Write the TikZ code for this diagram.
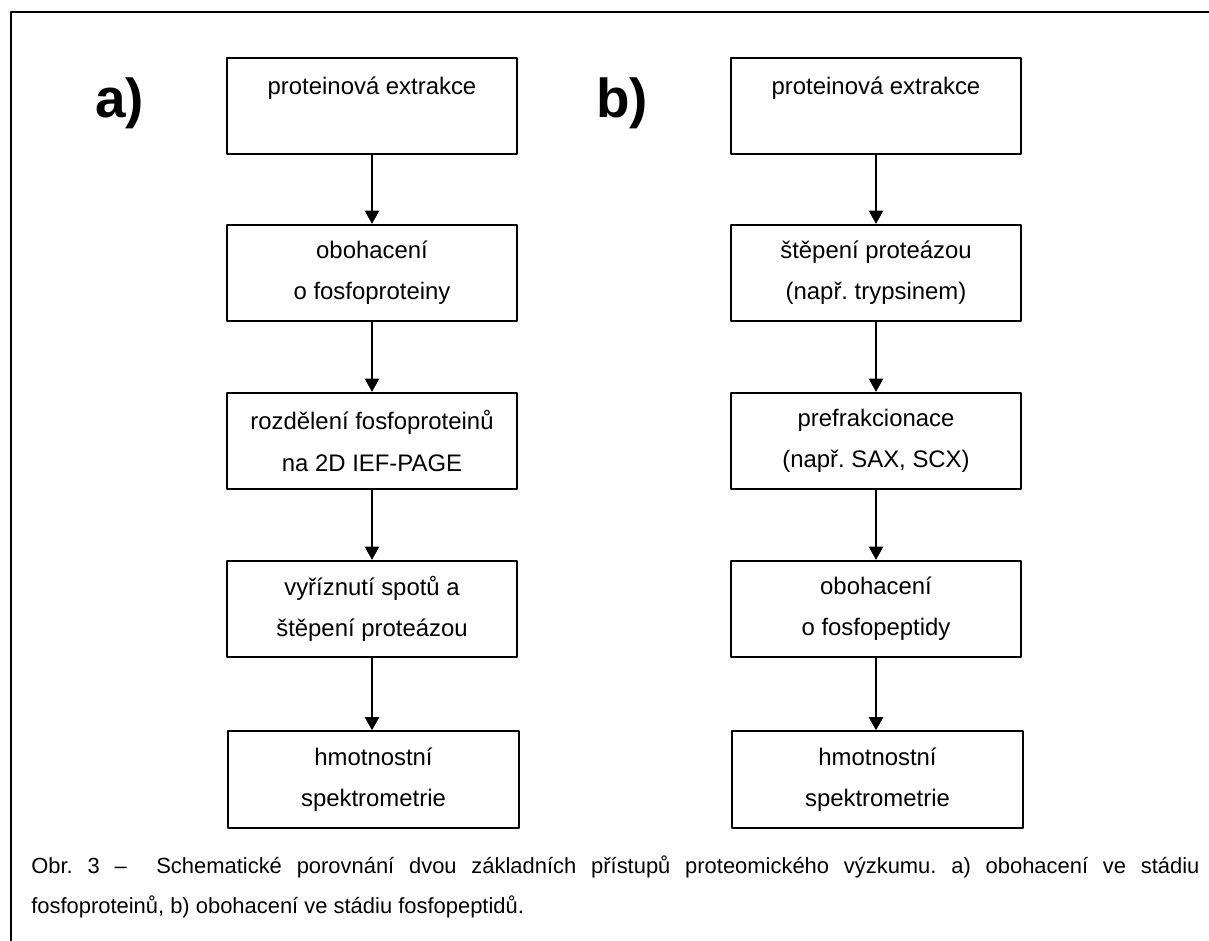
\documentclass[tikz,border=0pt]{standalone}
\usepackage{fontspec}
\setmainfont{Liberation Sans}
\usetikzlibrary{arrows.meta}
\usetikzlibrary{positioning}
\frenchspacing

\begin{document}
\begin{tikzpicture}[line cap=round,line join=round,>={Triangle[width=3.6mm,length=3.3mm]},x=0.025cm,y=-0.025cm,
  krok/.style={draw,line width=1.4pt,minimum width=7.25cm,minimum height=2.41cm,align=center,inner sep=0pt,font=\fontsize{17pt}{29.2pt}\selectfont},
  sipka/.style={->,line width=1.05pt},
  pismeno/.style={anchor=base west,inner sep=0pt,font=\fontsize{39pt}{39pt}\selectfont\bfseries}]
\useasboundingbox (0,0) rectangle (1209,940);
\draw[line width=1.4pt] (1215,12) -- (11,12) -- (11,946);
% a) obohaceni fosfoproteinu
\node[pismeno] (la) at (95,117) {a)};
\node[krok] (a1) at (372,106) {proteinová extrakce\\~};
\node[krok] (a2) at (372,273) {obohacení\\o fosfoproteiny};
\node[krok] (a3) at (372,441) {rozdělení fosfoproteinů\\na 2D IEF-PAGE};
\node[krok] (a4) at (372,609) {vyříznutí spotů a\\štěpení proteázou};
\node[krok] (a5) at (373.5,779.5) {hmotnostní\\spektrometrie};
\draw[sipka] (a1) -- (a2);
\draw[sipka] (a2) -- (a3);
\draw[sipka] (a3) -- (a4);
\draw[sipka] (a4.south) -- (a4.south |- a5.north);
% b) obohaceni fosfopeptidu
\node[pismeno] (lb) at (596,117) {b)};
\node[krok] (b1) at (876,106) {proteinová extrakce\\~};
\node[krok] (b2) at (876,273) {štěpení proteázou\\(např. trypsinem)};
\node[krok] (b3) at (876,441) {prefrakcionace\\(např. SAX, SCX)};
\node[krok] (b4) at (876,609) {obohacení\\o fosfopeptidy};
\node[krok] (b5) at (877.5,779.5) {hmotnostní\\spektrometrie};
\draw[sipka] (b1) -- (b2);
\draw[sipka] (b2) -- (b3);
\draw[sipka] (b3) -- (b4);
\draw[sipka] (b4.south) -- (b4.south |- b5.north);
% popisek
\node[anchor=base west,inner sep=0pt,text width=29.2cm,align=justify,font=\fontsize{15.6pt}{28.45pt}\selectfont] (popis) at (31,873)
  {Obr. 3 –~~Schematické porovnání dvou základních přístupů proteomického výzkumu. a) obohacení ve stádiu\linebreak
   fosfoproteinů, b) obohacení ve stádiu fosfopeptidů.};
\end{tikzpicture}
\end{document}
